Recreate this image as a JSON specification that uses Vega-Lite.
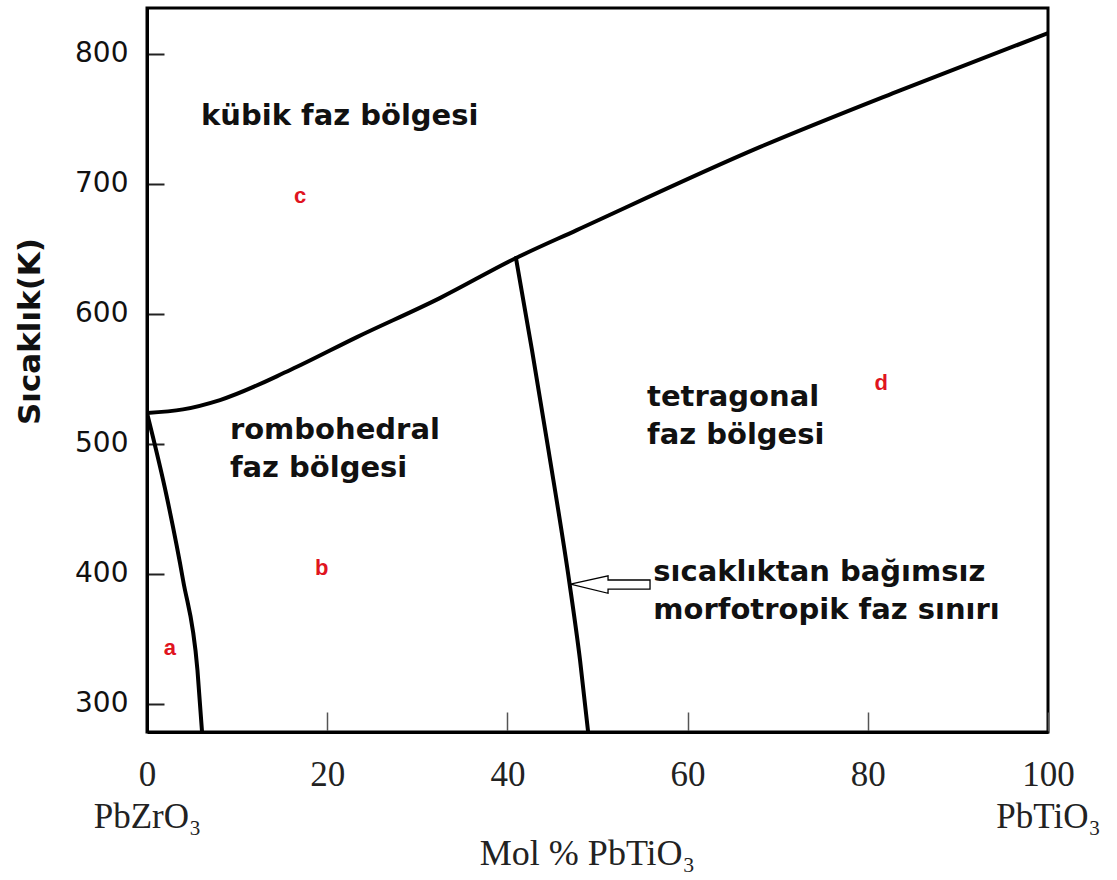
{
  "$schema": "https://vega.github.io/schema/vega-lite/v6.json",
  "width": 901,
  "height": 724,
  "autosize": "none",
  "padding": {"left": 147, "top": 8, "right": 69, "bottom": 148},
  "background": "white",
  "config": {"view": {"stroke": "black", "strokeWidth": 3}},
  "datasets": {
    "curves": [
      {"seg": "cubic", "ord": 1, "x": 0, "T": 523.7},
      {"seg": "cubic", "ord": 2, "x": 4.0, "T": 526.5},
      {"seg": "cubic", "ord": 3, "x": 8.1, "T": 533.7},
      {"seg": "cubic", "ord": 4, "x": 15.9, "T": 556.8},
      {"seg": "cubic", "ord": 5, "x": 23.3, "T": 582.1},
      {"seg": "cubic", "ord": 6, "x": 32.5, "T": 612.1},
      {"seg": "cubic", "ord": 7, "x": 40.95, "T": 642.9},
      {"seg": "cubic", "ord": 8, "x": 47.7, "T": 664.4},
      {"seg": "cubic", "ord": 9, "x": 68.0, "T": 728.2},
      {"seg": "cubic", "ord": 10, "x": 83.6, "T": 771.9},
      {"seg": "cubic", "ord": 11, "x": 100, "T": 815.9},
      {"seg": "left", "ord": 1, "x": 0, "T": 523.7},
      {"seg": "left", "ord": 2, "x": 2.2, "T": 459.1},
      {"seg": "left", "ord": 3, "x": 4.0, "T": 395.3},
      {"seg": "left", "ord": 4, "x": 5.6, "T": 326.0},
      {"seg": "left", "ord": 5, "x": 6.1, "T": 279.2},
      {"seg": "mpb", "ord": 1, "x": 40.95, "T": 642.9},
      {"seg": "mpb", "ord": 2, "x": 42.73, "T": 572.1},
      {"seg": "mpb", "ord": 3, "x": 44.56, "T": 495.2},
      {"seg": "mpb", "ord": 4, "x": 46.89, "T": 392.9},
      {"seg": "mpb", "ord": 5, "x": 48.06, "T": 333.7},
      {"seg": "mpb", "ord": 6, "x": 48.95, "T": 279.0}
    ],
    "arrow": [
      {"ord": 1, "x": 47.0, "T": 392.2},
      {"ord": 2, "x": 51.17, "T": 398.5},
      {"ord": 3, "x": 51.17, "T": 395.3},
      {"ord": 4, "x": 55.83, "T": 395.3},
      {"ord": 5, "x": 55.83, "T": 388.3},
      {"ord": 6, "x": 51.17, "T": 388.3},
      {"ord": 7, "x": 51.17, "T": 385.1},
      {"ord": 8, "x": 47.0, "T": 392.2}
    ],
    "regions": [
      {"x": 6.0, "T": 752.0, "text": "kübik faz bölgesi"},
      {"x": 9.2, "T": 510.6, "text": "rombohedral"},
      {"x": 9.2, "T": 481.4, "text": "faz bölgesi"},
      {"x": 55.5, "T": 536.3, "text": "tetragonal"},
      {"x": 55.5, "T": 507.1, "text": "faz bölgesi"},
      {"x": 56.2, "T": 401.4, "text": "sıcaklıktan bağımsız"},
      {"x": 56.2, "T": 372.2, "text": "morfotropik faz sınırı"}
    ],
    "markers": [
      {"x": 2.55, "T": 342.9, "text": "a"},
      {"x": 19.4, "T": 404.3, "text": "b"},
      {"x": 17.0, "T": 690.5, "text": "c"},
      {"x": 81.5, "T": 546.8, "text": "d"}
    ]
  },
  "layer": [
    {
      "data": {"name": "curves"},
      "mark": {"type": "line", "color": "black", "strokeWidth": 4, "clip": true, "interpolate": "monotone", "strokeCap": "round"},
      "encoding": {
        "x": {
          "field": "x", "type": "quantitative",
          "scale": {"domain": [0, 100], "nice": false, "zero": false},
          "axis": {
            "values": [0, 20, 40, 60, 80, 100],
            "grid": false,
            "tickSize": -20, "tickWidth": 1.5, "tickColor": "#555",
            "domainColor": "black", "domainWidth": 3,
            "labelFont": "Liberation Serif", "labelFontSize": 35, "labelColor": "#222",
            "labelPadding": 45, "labelFlush": false, "labelOverlap": false,
            "labelLineHeight": 42,
            "labelExpr": "datum.value == 0 ? ['0','PbZrO₃'] : datum.value == 100 ? ['100','PbTiO₃'] : datum.label",
            "title": "Mol % PbTiO₃",
            "titleFont": "Liberation Serif", "titleFontSize": 36, "titleFontWeight": "normal", "titleColor": "#222",
            "titleX": 440, "titleY": 121, "titleBaseline": "middle", "titleAlign": "center"
          }
        },
        "y": {
          "field": "T", "type": "quantitative",
          "scale": {"domain": [278.4, 835.2], "nice": false, "zero": false},
          "axis": {
            "values": [300, 400, 500, 600, 700, 800],
            "grid": false,
            "tickSize": -17, "tickWidth": 2, "tickColor": "#222",
            "domainColor": "black", "domainWidth": 3,
            "labelFont": "DejaVu Sans", "labelFontSize": 28, "labelColor": "#111",
            "labelPadding": 36, "labelOverlap": false,
            "title": "Sıcaklık(K)",
            "titleFont": "DejaVu Sans", "titleFontSize": 31, "titleFontWeight": "bold", "titleColor": "#111",
            "titleX": -117, "titleY": 323, "titleBaseline": "middle", "titleAlign": "center", "titleAngle": -90
          }
        },
        "detail": {"field": "seg"},
        "order": {"field": "ord"}
      }
    },
    {
      "data": {"name": "arrow"},
      "mark": {"type": "line", "color": "black", "strokeWidth": 1.3},
      "encoding": {
        "x": {"field": "x", "type": "quantitative"},
        "y": {"field": "T", "type": "quantitative"},
        "order": {"field": "ord"}
      }
    },
    {
      "data": {"name": "regions"},
      "mark": {"type": "text", "align": "left", "baseline": "middle", "font": "DejaVu Sans", "fontWeight": "bold", "fontSize": 29, "color": "#111"},
      "encoding": {
        "x": {"field": "x", "type": "quantitative"},
        "y": {"field": "T", "type": "quantitative"},
        "text": {"field": "text"}
      }
    },
    {
      "data": {"name": "markers"},
      "mark": {"type": "text", "align": "center", "baseline": "middle", "font": "Liberation Sans", "fontWeight": "bold", "fontSize": 22, "color": "#e0141e"},
      "encoding": {
        "x": {"field": "x", "type": "quantitative"},
        "y": {"field": "T", "type": "quantitative"},
        "text": {"field": "text"}
      }
    }
  ]
}
